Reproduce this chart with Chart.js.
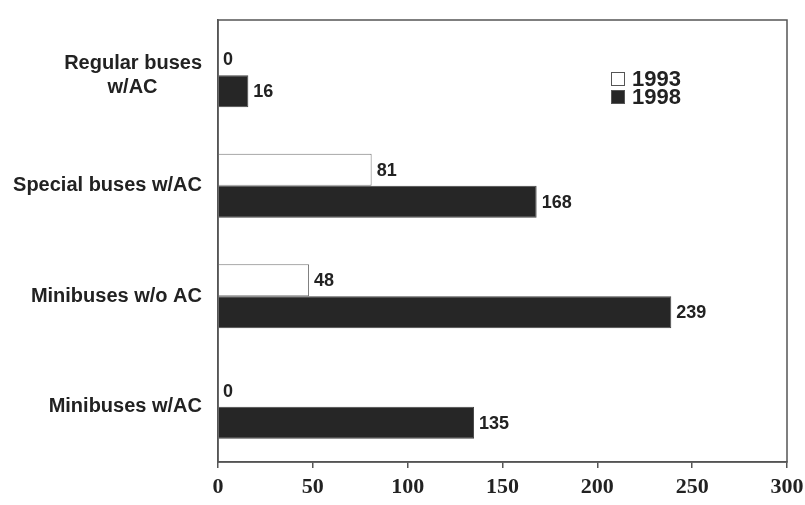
<!DOCTYPE html>
<html>
<head>
<meta charset="utf-8">
<script src="https://cdn.jsdelivr.net/npm/chart.js@4/dist/chart.umd.min.js"></script>
<style>
  html, body { margin: 0; padding: 0; background: #fff; }
  #wrap { position: relative; width: 805px; height: 505px; }
  .legend { position: absolute; left: 611px; top: 70px; font: bold 22px "Liberation Sans", Arial, sans-serif; color: #222; line-height: 18px; }
  .legend div { display: flex; align-items: center; }
  .legend span.box { display: inline-block; width: 14px; height: 14px; margin-right: 7px; border: 1px solid #555; box-sizing: border-box; }
</style>
</head>
<body>
<div id="wrap">
  <canvas id="chart" width="805" height="505"></canvas>
  <div class="legend">
    <div><span class="box" style="background:#fff"></span>1993</div>
    <div><span class="box" style="background:#262626"></span>1998</div>
  </div>
</div>
<script>
// second line padded so it sits centred under the first, as in the original
const categories = [['Regular buses', 'w/AC\u00a0\u00a0\u00a0\u00a0\u00a0\u00a0\u00a0\u00a0'], 'Special buses w/AC', 'Minibuses w/o AC', 'Minibuses w/AC'];
const years = ['1993', '1998'];
const values1993 = [0, 81, 48, 0];
const values1998 = [16, 168, 239, 135];
const xTicks = [0, 50, 100, 150, 200, 250, 300];

// frame round the plot area
const frame = {
    id: 'frame',
    afterDraw(chart) {
        const { ctx, chartArea: a } = chart;
        ctx.save();
        ctx.strokeStyle = '#555';
        ctx.lineWidth = 1.5;
        ctx.strokeRect(a.left, a.top, a.right - a.left, a.bottom - a.top);
        ctx.restore();
    }
};

// value at the end of every bar
const valueLabels = {
    id: 'valueLabels',
    afterDatasetsDraw(chart) {
        const ctx = chart.ctx;
        ctx.save();
        ctx.font = 'bold 18px "Liberation Sans", Arial, sans-serif';
        ctx.fillStyle = '#222';
        ctx.textBaseline = 'middle';
        chart.data.datasets.forEach((ds, i) => {
            chart.getDatasetMeta(i).data.forEach((bar, j) => {
                ctx.fillText(ds.data[j], bar.x + 5, bar.y + 1);
            });
        });
        ctx.restore();
    }
};

new Chart(document.getElementById('chart'), {
    type: 'bar',
    data: {
        labels: categories,
        datasets: [
            {
                label: years[0],
                data: values1993,
                backgroundColor: '#fff',
                borderColor: '#777',
                borderWidth: 1
            },
            {
                label: years[1],
                data: values1998,
                backgroundColor: '#262626',
                borderColor: '#444',
                borderWidth: 1
            }
        ]
    },
    options: {
        indexAxis: 'y',
        responsive: false,
        animation: false,
        categoryPercentage: 0.58,
        barPercentage: 1,
        layout: { padding: { top: 4, right: 0 } },
        plugins: {
            legend: { display: false },
            tooltip: { enabled: false }
        },
        scales: {
            x: {
                min: 0,
                max: 300,
                afterBuildTicks: scale => { scale.ticks = xTicks.map(v => ({ value: v })); },
                afterFit: scale => {
                    scale.height = 43;
                    scale.paddingLeft = 0;
                    scale.paddingRight = 18;
                },
                grid: { drawOnChartArea: false, tickLength: 6, color: '#555', lineWidth: 1.5 },
                border: { color: '#555', width: 1.5 },
                ticks: {
                    color: '#222',
                    padding: 6,
                    font: { family: '"Liberation Serif", "Times New Roman", serif', weight: 'bold', size: 22 }
                }
            },
            y: {
                afterFit: scale => { scale.width = 218; },
                grid: { display: false },
                border: { color: '#555', width: 1.5 },
                ticks: {
                    color: '#222',
                    padding: 8,
                    font: { family: '"Liberation Sans", Arial, sans-serif', weight: 'bold', size: 20 }
                }
            }
        }
    },
    plugins: [frame, valueLabels]
});
</script>
</body>
</html>
